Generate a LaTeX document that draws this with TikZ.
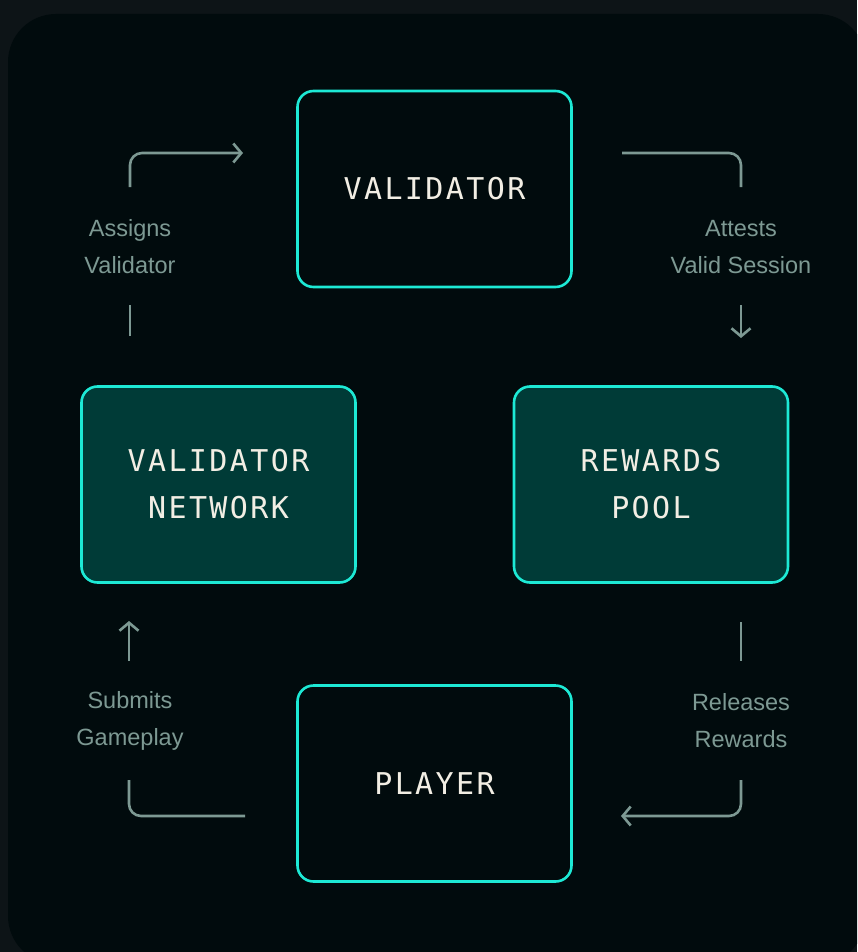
\documentclass[tikz,border=0pt]{standalone}
\usepackage{fontspec}
\usetikzlibrary{arrows.meta}
\newfontfamily\boxfont[LetterSpace=8]{DejaVu Sans Mono}
\newfontfamily\labfont{Liberation Sans}
\definecolor{outerbg}{HTML}{0D1417}
\definecolor{panelbg}{HTML}{010B0D}
\definecolor{cyanedge}{HTML}{1DE9D5}
\definecolor{tealfill}{HTML}{003B37}
\definecolor{boxtext}{HTML}{F2EEE4}
\definecolor{linkgrey}{HTML}{7D9993}
\begin{document}
\begin{tikzpicture}[x=1pt,y=-1pt,
  card/.style={draw=cyanedge, line width=2.6pt, rounded corners=16pt, minimum width=274pt, minimum height=196pt, text=boxtext, align=center, font=\boxfont\fontsize{30}{47}\selectfont},
  darkcard/.style={card, fill=panelbg},
  tealcard/.style={card, fill=tealfill},
  link/.style={draw=linkgrey, line width=2.6pt, rounded corners=12pt},
  tip/.style={-{Straight Barb[length=8pt,width=19pt,line width=2.6pt]}},
  lab/.style={text=linkgrey, align=center, font=\labfont\fontsize{23.5}{37}\selectfont}
]
\useasboundingbox (0,0) rectangle (857,952);
\fill[outerbg] (0,0) rectangle (857,952);
\begin{scope}
\clip (0,0) rectangle (857,952);
\fill[panelbg, rounded corners=48pt] (8,14) rectangle (866,964);
\end{scope}

\node[darkcard] (val) at (434.5,189) {VALIDATOR};
\node[tealcard] (net) at (218.5,484.5) {VALIDATOR\\NETWORK};
\node[tealcard] (pool) at (651,484.5) {REWARDS\\POOL};
\node[darkcard] (player) at (434.5,783.5) {PLAYER};

% labels
\node[lab] (l1) at (130,247) {Assigns\\Validator};
\node[lab] (l2) at (741,247) {Attests\\Valid Session};
\node[lab] (l3) at (741,721) {Releases\\Rewards};
\node[lab] (l4) at (130,721) {Submits\\Gameplay};

% connector coordinates
\coordinate (a0) at (130,336);
\coordinate (a1) at (130,305);
\coordinate (a2) at (130,187);
\coordinate (a3) at (243,153);
\coordinate (b0) at (622,153);
\coordinate (b1) at (741,187);
\coordinate (b2) at (741,305);
\coordinate (b3) at (741,338);
\coordinate (c0) at (741,622);
\coordinate (c1) at (741,661);
\coordinate (c2) at (741,780);
\coordinate (c3) at (621,816);
\coordinate (d0) at (245,816);
\coordinate (d1) at (129,780);
\coordinate (d2) at (129,661);
\coordinate (d3) at (129,621);

\draw[link] (a0) -- (a1);
\draw[link, tip] (a2) |- (a3);
\draw[link] (b0) -| (b1);
\draw[link, tip] (b2) -- (b3);
\draw[link] (c0) -- (c1);
\draw[link, tip] (c2) |- (c3);
\draw[link] (d0) -| (d1);
\draw[link, tip] (d2) -- (d3);
\end{tikzpicture}
\end{document}
